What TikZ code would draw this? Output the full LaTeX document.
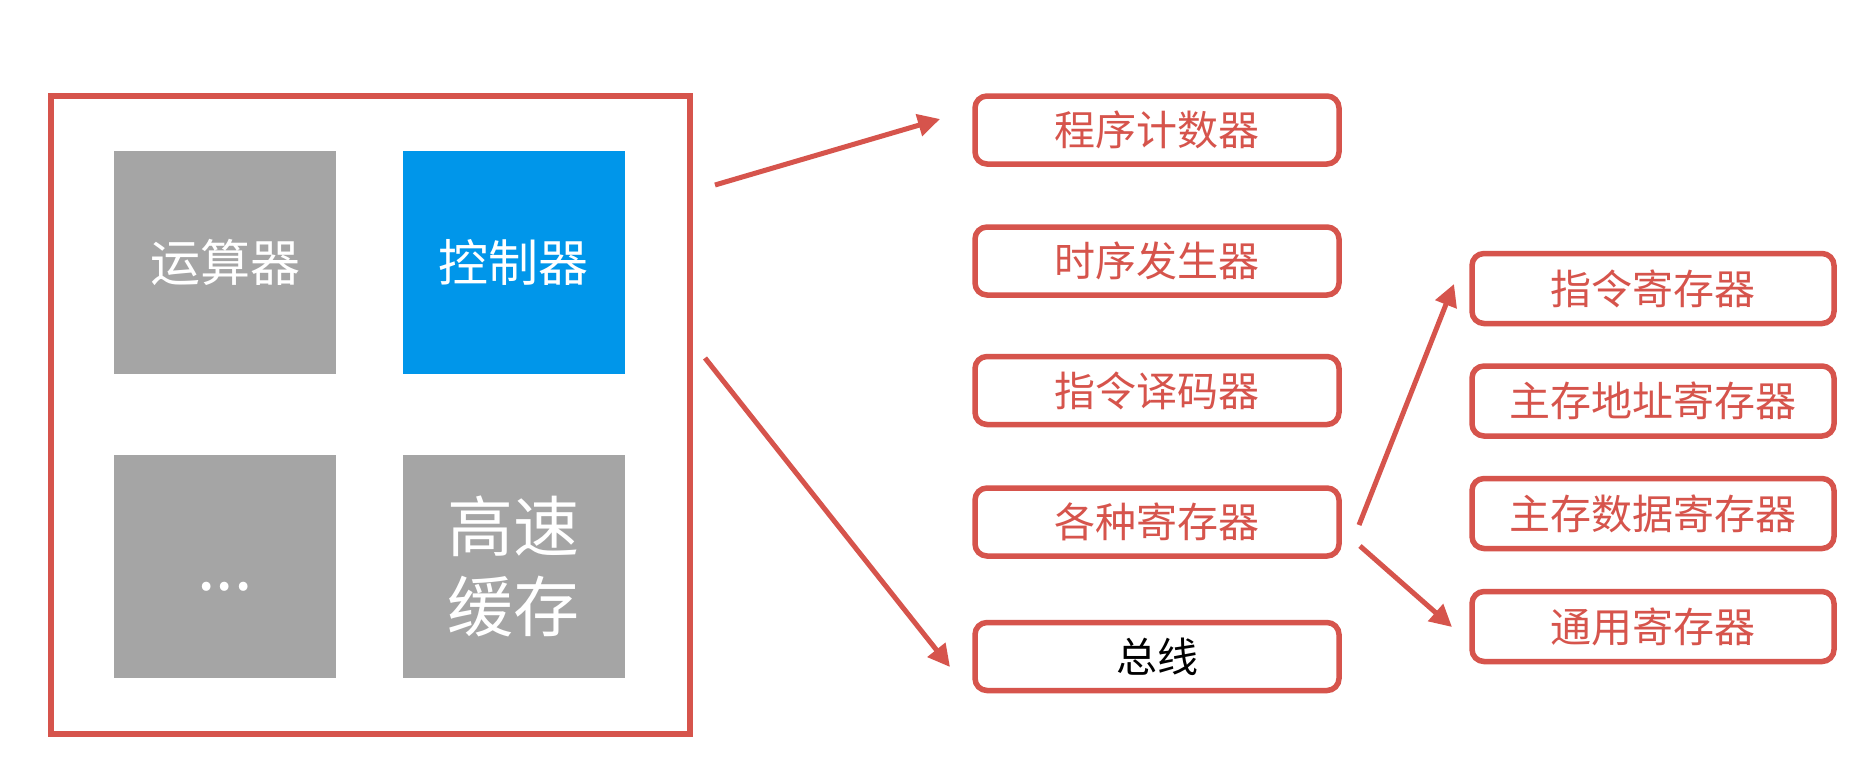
\documentclass[tikz,border=0pt]{standalone}
\usepackage{fontspec}
\newfontfamily\cjk{Noto Sans CJK SC}
\usetikzlibrary{arrows.meta}
\definecolor{myred}{RGB}{214,84,76}
\definecolor{mygray}{RGB}{165,165,165}
\definecolor{myblue}{RGB}{0,150,234}
\begin{document}
\begin{tikzpicture}[x=0.5pt,y=-0.5pt,
  unitbox/.style={minimum width=111pt, minimum height=111.5pt, inner sep=0pt, text=white, font=\cjk\fontsize{25}{30}\selectfont, align=center},
  graybox/.style={unitbox, fill=mygray},
  bluebox/.style={unitbox, fill=myblue},
  regbox/.style={draw=myred, line width=2.75pt, rounded corners=6pt, minimum width=182pt, minimum height=34pt, inner sep=0pt, text=myred, font=\cjk\fontsize{20.5}{24}\selectfont},
  subbox/.style={regbox, minimum width=181pt, minimum height=35pt},
  link/.style={draw=myred, line width=2.5pt, -{Triangle[length=11pt,width=11pt]}}
]
\useasboundingbox (0,0) rectangle (1849,760);
\fill[white] (0,0) rectangle (1849,760);
% CPU outline
\node[draw=myred, line width=3pt, minimum width=319.5pt, minimum height=319pt, inner sep=0pt] (cpu) at (370.5,415) {};
\node[graybox] (alu) at (225,262.5) {运算器};
\node[bluebox] (cu) at (513.5,262.5) {控制器};
\node[graybox, font=\cjk\fontsize{33}{40}\selectfont] (etc) at (225,566) {\raisebox{-12pt}[0pt][0pt]{...}};
\node[graybox, font=\cjk\fontsize{33}{40}\selectfont] (cache) at (513.5,566) {高速\\缓存};
% middle column
\node[regbox] (pc) at (1157,130) {程序计数器};
\node[regbox] (tg) at (1157,261) {时序发生器};
\node[regbox] (id) at (1157,390.5) {指令译码器};
\node[regbox] (regs) at (1157,522) {各种寄存器};
\node[regbox, text=black] (bus) at (1157,656.5) {总线};
% right column
\node[subbox] (ir) at (1653,288.5) {指令寄存器};
\node[subbox] (mar) at (1653,401) {主存地址寄存器};
\node[subbox] (mdr) at (1653,513.5) {主存数据寄存器};
\node[subbox] (gpr) at (1653,626.5) {通用寄存器};
% arrow ends
\coordinate (s1) at (715,185);
\coordinate (t1) at (940,119);
\coordinate (s2) at (705,358);
\coordinate (t2) at (950,667);
\coordinate (s3) at (1359,525);
\coordinate (t3) at (1454,284);
\coordinate (s4) at (1360,546);
\coordinate (t4) at (1452,627);
\draw[link] (s1) -- (t1);
\draw[link] (s2) -- (t2);
\draw[link] (s3) -- (t3);
\draw[link] (s4) -- (t4);
\end{tikzpicture}
\end{document}
